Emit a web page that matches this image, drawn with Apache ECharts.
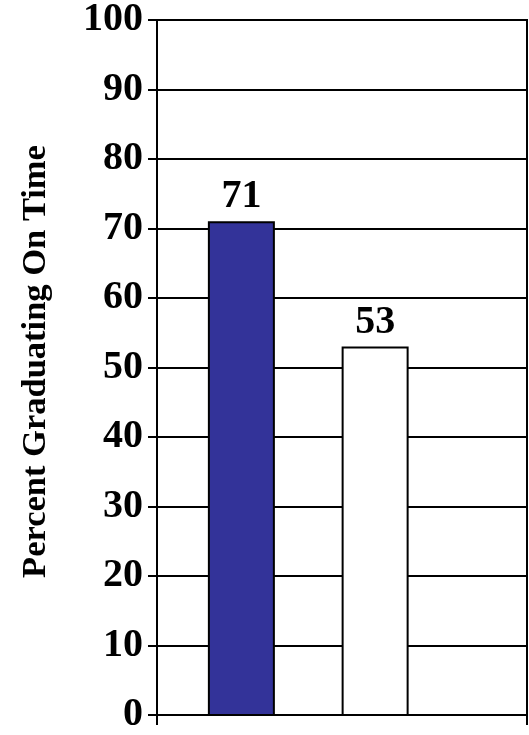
<!DOCTYPE html>
<html><head><meta charset="utf-8">
<script src="https://cdn.jsdelivr.net/npm/echarts@6/dist/echarts.min.js"></script>
<style>html,body{margin:0;padding:0;background:#fff}#c{width:529px;height:735px}</style>
</head><body><div id="c"></div>
<script>
const categories = ['Group A', 'Group B'];
const values = [71, 53];
const barColors = ['#333399', '#ffffff'];
const yTicks = [0, 10, 20, 30, 40, 50, 60, 70, 80, 90, 100];
const yTitle = 'Percent Graduating On Time';

const FONT = '"Liberation Serif","Times New Roman",serif';
const chart = echarts.init(document.getElementById('c'));
chart.setOption({
  animation: false,
  backgroundColor: '#fff',
  grid: [
    {left: 157, right: 2, top: 19, bottom: 19, show: true, borderColor: '#000', borderWidth: 2, backgroundColor: 'transparent'},
    {left: 174.5, right: 87, top: 19, bottom: 19}
  ],
  xAxis: [
    {type: 'category', gridIndex: 0, data: [''], boundaryGap: true,
     axisLine: {lineStyle: {color: '#000', width: 2}},
     axisTick: {show: true, length: 10, lineStyle: {color: '#000', width: 2}},
     axisLabel: {show: false}},
    {type: 'category', gridIndex: 1, data: categories, show: false}
  ],
  yAxis: [
    {type: 'value', gridIndex: 0, min: yTicks[0], max: yTicks[yTicks.length - 1], interval: yTicks[1] - yTicks[0],
     name: yTitle, nameLocation: 'middle', nameRotate: 90, nameGap: 103,
     nameTextStyle: {fontFamily: FONT, fontWeight: 'bold', fontSize: 34.5, color: '#000', padding: [0, 0, 0, 12]},
     axisLine: {show: true, lineStyle: {color: '#000', width: 2}},
     axisTick: {show: true, length: 9, lineStyle: {color: '#000', width: 2}},
     axisLabel: {margin: 14, fontFamily: FONT, fontWeight: 'bold', fontSize: 40, color: '#000'},
     splitLine: {show: true, lineStyle: {color: '#000', width: 2}}},
    {type: 'value', gridIndex: 1, min: yTicks[0], max: yTicks[yTicks.length - 1], show: false, splitLine: {show: false}}
  ],
  series: [{
    type: 'bar', xAxisIndex: 1, yAxisIndex: 1, barWidth: 67,
    data: values.map((v, i) => ({value: v, itemStyle: {color: barColors[i]}})),
    itemStyle: {borderColor: '#000', borderWidth: 2},
    label: {show: true, position: 'top', distance: 4, fontFamily: FONT, fontWeight: 'bold', fontSize: 40, color: '#000'}
  }]
});
</script></body></html>
